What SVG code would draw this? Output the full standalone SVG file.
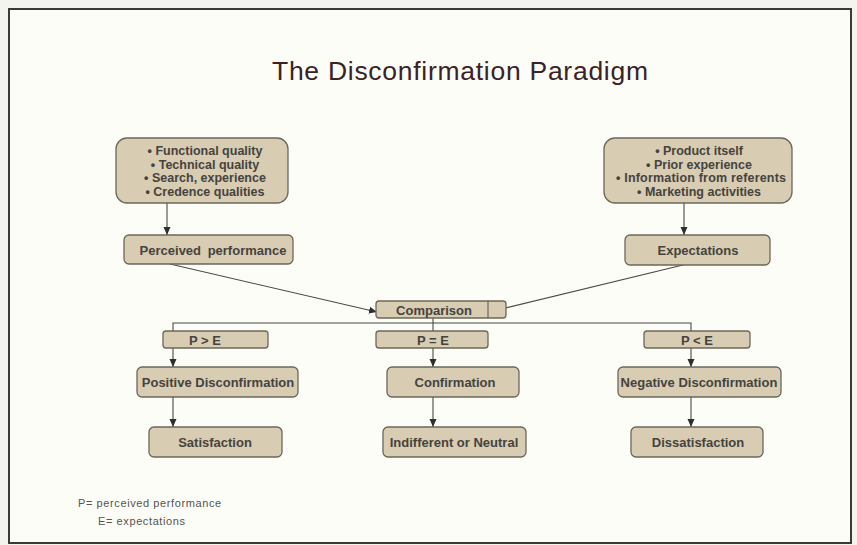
<svg xmlns="http://www.w3.org/2000/svg" width="857" height="545" viewBox="0 0 857 545">
<defs>
<marker id="ah" markerWidth="8" markerHeight="8" refX="8" refY="4" orient="auto" markerUnits="userSpaceOnUse">
<path d="M0,0.5 L8,4 L0,7.5 z" fill="#2e2e2e"/>
</marker>
</defs>
<style>
.box{fill:#d8ccb2;stroke:#6b675c;stroke-width:1.3}
.t{font-family:"Liberation Sans",Arial,sans-serif;font-weight:bold;font-size:13px;fill:#45433e;text-anchor:middle;dominant-baseline:central}
.s{font-family:"Liberation Sans",Arial,sans-serif;font-weight:bold;font-size:12.5px;fill:#45433e;text-anchor:middle;dominant-baseline:central}
.c{fill:none;stroke:#4a4a46;stroke-width:1.1}
.n{font-family:"Liberation Sans",Arial,sans-serif;font-size:11px;letter-spacing:0.6px;fill:#55544f}
</style>
<rect x="0" y="0" width="857" height="545" fill="#f4f4ef"/>
<rect x="9" y="9" width="842" height="534" fill="#fdfdf7" stroke="#3a3a38" stroke-width="2"/>
<text x="272" y="80" font-family="Liberation Sans,Arial,sans-serif" font-size="26.5px" fill="#3b2226" textLength="376" lengthAdjust="spacing">The Disconfirmation Paradigm</text>

<g id="connectors">
<line class="c" x1="167" y1="203" x2="167" y2="235" marker-end="url(#ah)"/>
<line class="c" x1="684" y1="203" x2="684" y2="235" marker-end="url(#ah)"/>
<line class="c" x1="170" y1="264" x2="377" y2="312" marker-end="url(#ah)"/>
<line class="c" x1="683" y1="265" x2="489" y2="312" marker-end="url(#ah)"/>
<path class="c" d="M433,318 V331 M173,331 V323 H691 V331"/>
<line class="c" x1="173" y1="348" x2="173" y2="367" marker-end="url(#ah)"/>
<line class="c" x1="173" y1="397" x2="173" y2="427" marker-end="url(#ah)"/>
<line class="c" x1="433" y1="348" x2="433" y2="367" marker-end="url(#ah)"/>
<line class="c" x1="433" y1="397" x2="433" y2="427" marker-end="url(#ah)"/>
<line class="c" x1="691" y1="348" x2="691" y2="367" marker-end="url(#ah)"/>
<line class="c" x1="691" y1="397" x2="691" y2="427" marker-end="url(#ah)"/>
</g>

<g id="perf-factors">
<rect class="box" x="116" y="138" width="172" height="65" rx="11"/>
<text class="s" x="205" y="151">• Functional quality</text>
<text class="s" x="205" y="164.5">• Technical quality</text>
<text class="s" x="205" y="178">• Search, experience</text>
<text class="s" x="205" y="191.5">• Credence qualities</text>
</g>
<g id="exp-factors">
<rect class="box" x="604" y="138" width="188" height="65" rx="11"/>
<text class="s" x="699" y="151">• Product itself</text>
<text class="s" x="699" y="164.5">• Prior experience</text>
<text class="s" x="701" y="178" textLength="170" lengthAdjust="spacing">• Information from referents</text>
<text class="s" x="699" y="191.5">• Marketing activities</text>
</g>
<g id="perceived">
<rect class="box" x="124" y="235" width="169" height="29" rx="5"/>
<text class="t" x="213" y="250" word-spacing="3">Perceived performance</text>
</g>
<g id="expectations">
<rect class="box" x="625" y="235" width="145" height="30" rx="5"/>
<text class="t" x="698" y="250">Expectations</text>
</g>
<g id="comparison">
<rect class="box" x="376" y="301" width="130" height="17" rx="3"/>
<line x1="488" y1="301" x2="488" y2="318" stroke="#6b675c" stroke-width="1.2"/>
<text class="t" x="434" y="310">Comparison</text>
</g>
<g id="pgte">
<rect class="box" x="163" y="331" width="105" height="17" rx="3"/>
<text class="t" x="205" y="340">P &gt; E</text>
</g>
<g id="peqe">
<rect class="box" x="376" y="331" width="112" height="17" rx="3"/>
<text class="t" x="433" y="340">P = E</text>
</g>
<g id="plte">
<rect class="box" x="644" y="331" width="106" height="17" rx="3"/>
<text class="t" x="697" y="340">P &lt; E</text>
</g>
<g id="posdis">
<rect class="box" x="137" y="367" width="161" height="30" rx="5"/>
<text class="t" x="218" y="382">Positive Disconfirmation</text>
</g>
<g id="confirm">
<rect class="box" x="387" y="367" width="132" height="30" rx="5"/>
<text class="t" x="455" y="382">Confirmation</text>
</g>
<g id="negdis">
<rect class="box" x="618" y="367" width="163" height="30" rx="5"/>
<text class="t" x="699" y="382">Negative Disconfirmation</text>
</g>
<g id="satisfaction">
<rect class="box" x="149" y="427" width="133" height="30" rx="5"/>
<text class="t" x="215" y="442">Satisfaction</text>
</g>
<g id="neutral">
<rect class="box" x="383" y="427" width="143" height="30" rx="5"/>
<text class="t" x="454" y="442">Indifferent or Neutral</text>
</g>
<g id="dissatisfaction">
<rect class="box" x="631" y="427" width="132" height="30" rx="5"/>
<text class="t" x="698" y="442">Dissatisfaction</text>
</g>
<text class="n" x="78" y="507">P= perceived performance</text>
<text class="n" x="98" y="525">E= expectations</text>
</svg>
